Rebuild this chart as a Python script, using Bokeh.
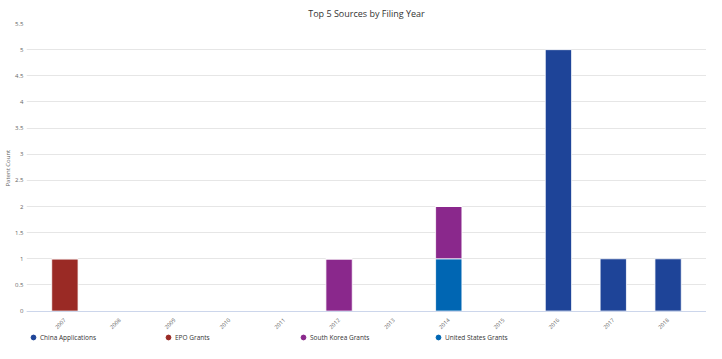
from bokeh.plotting import figure
from bokeh.models import (ColumnDataSource, FactorRange, Range1d, FixedTicker,
                          Legend, LegendItem, Title)
from bokeh.embed import file_html
from bokeh.resources import INLINE

years = ["2007", "2008", "2009", "2010", "2011", "2012",
         "2013", "2014", "2015", "2016", "2017", "2018"]
china_applications = [0, 0, 0, 0, 0, 0, 0, 0, 0, 5, 1, 1]
epo_grants = [1, 0, 0, 0, 0, 0, 0, 0, 0, 0, 0, 0]
south_korea_grants = [0, 0, 0, 0, 0, 1, 0, 1, 0, 0, 0, 0]
united_states_grants = [0, 0, 0, 0, 0, 0, 0, 1, 0, 0, 0, 0]

series_names = ["China Applications", "EPO Grants", "South Korea Grants", "United States Grants"]
series_colors = ["#1e4498", "#9a2a25", "#8a288c", "#0066b3"]
y_ticks = [0, 0.5, 1, 1.5, 2, 2.5, 3, 3.5, 4, 4.5, 5, 5.5]

FONT = "Open Sans"

source = ColumnDataSource(dict(
    years=years,
    china=china_applications,
    epo=epo_grants,
    sk=south_korea_grants,
    us=united_states_grants,
))

# the plot area runs below zero to make room for the x labels and the legend
p = figure(
    width=706, height=343,
    x_range=FactorRange(*years, range_padding=0.2, range_padding_units="absolute"),
    y_range=Range1d(-0.62, 5.5),
    output_backend="svg", toolbar_location=None,
    title="Top 5 Sources by Filing Year",
    min_border_left=25, min_border_right=0, min_border_top=0, min_border_bottom=0,
)

# stack: bottom first (Highcharts stacks first series on top)
stack_keys = ["us", "sk", "epo", "china"]
stack_colors = [series_colors[3], series_colors[2], series_colors[1], series_colors[0]]
p.vbar_stack(stack_keys, x="years", width=0.48, source=source,
             color=stack_colors, line_color="white", line_width=0.8)

# legend-only markers (circles); NaN y so nothing is drawn in the plot area
items = []
for name, col in zip(series_names, series_colors):
    r = p.scatter(x=[years[0]], y=[float("nan")], size=6, marker="circle",
                  fill_color=col, line_color=col)
    items.append(LegendItem(label=name, renderers=[r]))

legend = Legend(items=items, orientation="horizontal", location=(0, 0),
                glyph_width=14, glyph_height=12, label_standoff=0, label_width=117,
                label_height=12, spacing=4, padding=0, margin=0,
                border_line_color=None, background_fill_alpha=0,
                label_text_font=FONT, label_text_font_size="6.5px",
                label_text_color="#333333")
p.add_layout(legend, "center")

# title
p.title.align = "center"
p.title.text_font = FONT
p.title.text_font_size = "9px"
p.title.text_font_style = "normal"
p.title.text_color = "#333333"
p.title.standoff = 8
p.title.offset = 0

# y axis title placed at the vertical middle of the 0..5.5 span
ytitle = Title(text="Patent Count", align="left", offset=157,
               text_font=FONT, text_font_size="6px", text_font_style="normal",
               text_color="#666666", standoff=2)
p.add_layout(ytitle, "left")

# y axis
p.yaxis.ticker = FixedTicker(ticks=y_ticks)
p.yaxis.major_label_overrides = {v: f"{v:g}" for v in y_ticks}
p.yaxis.major_label_text_font = FONT
p.yaxis.major_label_text_font_size = "6px"
p.yaxis.major_label_text_color = "#666666"
p.yaxis.major_label_standoff = 3
p.yaxis.axis_line_color = None
p.yaxis.major_tick_line_color = None
p.yaxis.minor_tick_line_color = None
p.yaxis.major_tick_out = 0
p.yaxis.major_tick_in = 0

# x axis at zero
p.xaxis.fixed_location = 0
p.xaxis.major_label_orientation = 0.785
p.xaxis.major_label_text_font = FONT
p.xaxis.major_label_text_font_size = "5.5px"
p.xaxis.major_label_text_color = "#666666"
p.xaxis.major_label_standoff = 2
p.xaxis.axis_line_color = "#ccd6eb"
p.xaxis.major_tick_line_color = None
p.xaxis.minor_tick_line_color = None

p.xgrid.grid_line_color = None
p.ygrid.grid_line_color = "#e6e6e6"
p.ygrid.grid_line_width = 1
p.outline_line_color = None
p.background_fill_color = "white"
p.border_fill_color = "white"

open("out.html", "w").write(file_html(p, INLINE))
